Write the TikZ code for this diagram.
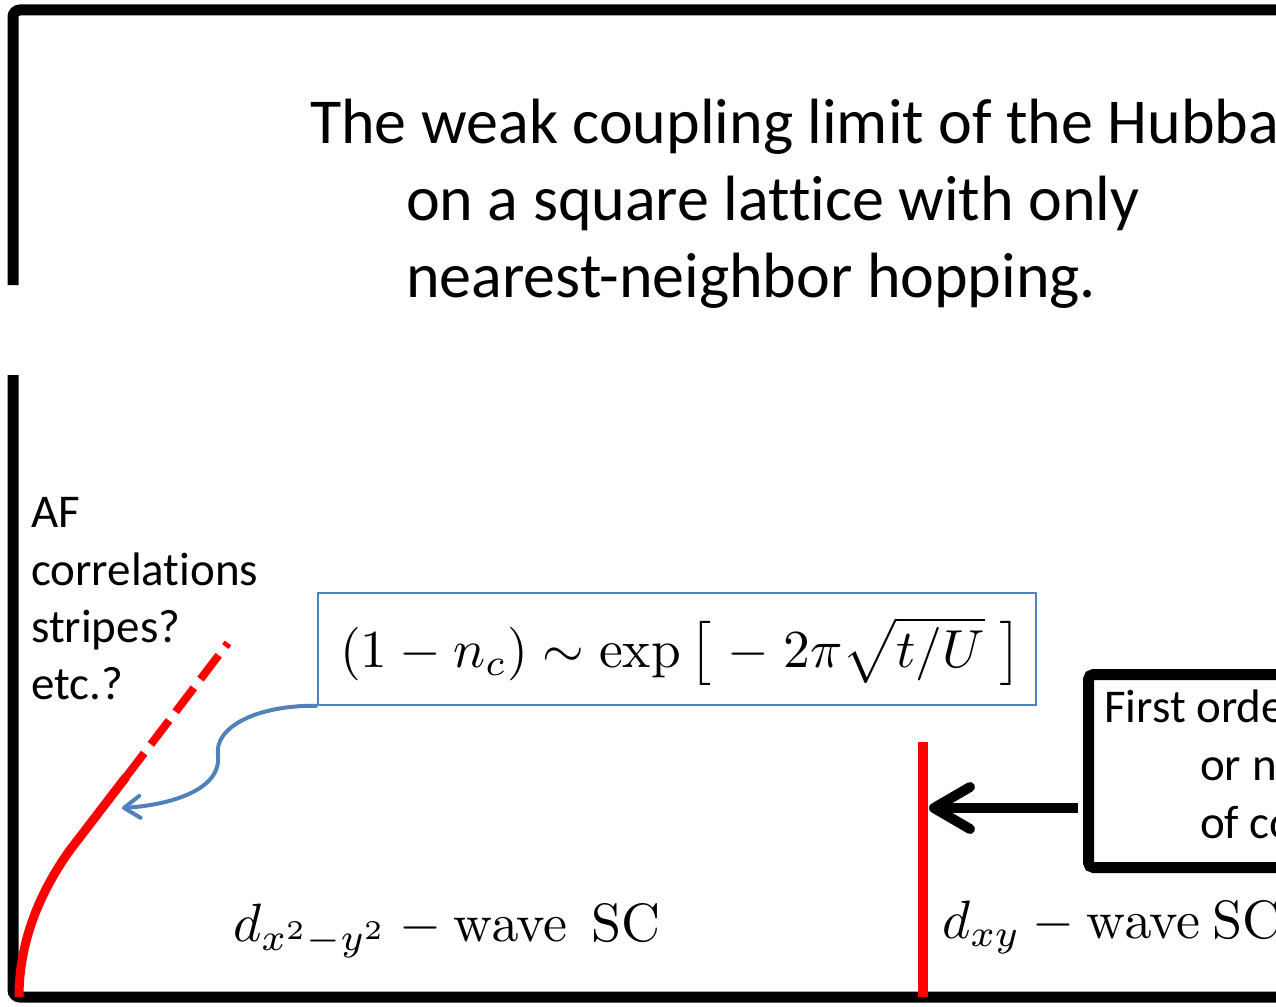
\documentclass[tikz,border=0pt]{standalone}
\usepackage{graphicx}
\usepackage[no-math]{fontspec}
\setmainfont{Carlito}[Ligatures=NoCommon]
\usetikzlibrary{arrows.meta}
\definecolor{msblue}{HTML}{4F81BD}
\tikzset{
  frame/.style={line width=11pt, black, rounded corners=7pt},
  txt/.style={anchor=base west, inner sep=0pt, font=\fontsize{47}{57}\selectfont},
  titletxt/.style={anchor=base west, inner sep=0pt, font=\fontsize{64}{77}\selectfont},
  mathtxt/.style={anchor=base west, inner sep=0pt},
  redline/.style={line width=9pt, red},
  bluearrow/.style={line width=4pt, msblue, -{Straight Barb[length=16pt,width=22pt,round]}},
  blackarrow/.style={line width=10pt, black, -{Straight Barb[length=36pt,width=42pt,round]}}
}
\begin{document}
\begin{tikzpicture}[x=1pt,y=-1pt]
\useasboundingbox (0,0) rectangle (1276,1006);
\clip (0,0) rectangle (1276,1006);
% top frame
\draw[frame] (13,285) -- (13,10) -- (1300,10);
% title
\node[titletxt] (t1) at (310,143) {The weak coupling limit of the Hubba};
\node[titletxt] (t2) at (406,220) {on a square lattice with only};
\node[titletxt] (t3) at (406,297) {nearest-neighbor hopping.};
% bottom frame (axes)
\draw[frame] (13,375) -- (13,997) -- (1300,997);
% AF labels
\node[txt] (af1) at (31,527) {AF};
\node[txt] (af2) at (31,585) {correlations};
\node[txt] (af3) at (31,642) {stripes?};
\node[txt] (af4) at (31,699) {etc.?};
% red phase boundary
\coordinate (c0) at (19,997);
\coordinate (c1) at (70,850);
\coordinate (c2) at (126,777);
\coordinate (c3) at (228,643);
\draw[redline] (c0) .. controls (19,935) and (45,885) .. (c1) -- (c2);
\draw[redline, line width=8pt, dash pattern=on 30pt off 11pt] (c2) -- (c3);
% formula box
\node[draw=msblue, line width=1.5pt, fill=white, minimum width=718pt, minimum height=112pt, inner sep=0pt] (formula) at (677,649) {};
\node[anchor=base west, inner sep=0pt] (fml) at (340,667)
  {\scalebox{5.35}{$(1-n_c)\sim\exp\,\bigl[\;-\;2\pi\sqrt{t/U}\;\bigr]$}};
\coordinate (ctip) at (122,808);
\draw[bluearrow] (formula.south west) .. controls (255,705) and (214,728) .. (218,755)
  .. controls (222,790) and (170,805) .. (ctip);
% d-wave labels
\node[mathtxt] (dx2) at (233,941) {\scalebox{5.4}{$d_{x^2-y^2}-\mathrm{wave}\ \ \mathrm{SC}$}};
\node[mathtxt] (dxy) at (942,938) {\scalebox{5.4}{$d_{xy}-\mathrm{wave}\ \mathrm{SC}$}};
% red vertical line
\coordinate (vtop) at (923,742);
\coordinate (vbot) at (923,997);
\draw[redline, line width=10pt] (vtop) -- (vbot);
% black box
\node[draw, line width=11pt, rounded corners=5pt, minimum width=400pt, minimum height=193pt,
      anchor=north west, inner sep=0pt] (fobox) at (1083,669) {};
\node[txt] (fo1) at (1104,722) {First orde};
\node[txt] (fo2) at (1200,780) {or n};
\node[txt] (fo3) at (1200,838) {of co};
\coordinate (astart) at (1078,808);
\coordinate (atip) at (929,808);
\draw[blackarrow] (astart) -- (atip);
\end{tikzpicture}
\end{document}
